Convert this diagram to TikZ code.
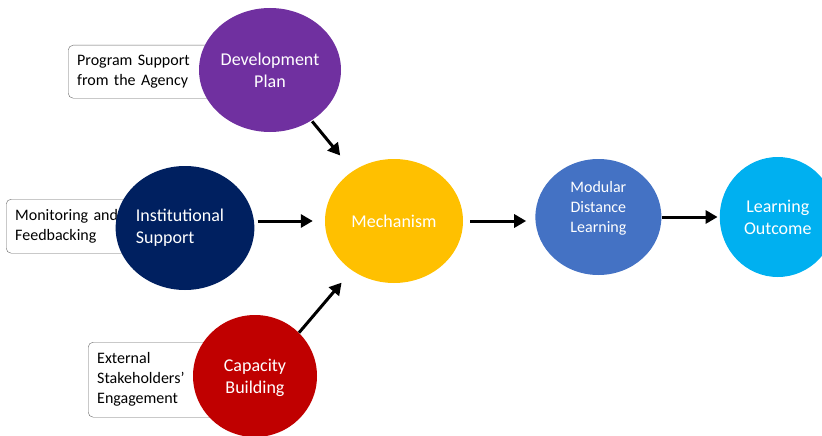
\documentclass[tikz,border=0pt]{standalone}
\usepackage{fontspec}
\setmainfont{Carlito}
\usetikzlibrary{shapes.geometric, arrows.meta, positioning}

\definecolor{planpurple}{HTML}{7030A0}
\definecolor{supportnavy}{HTML}{002060}
\definecolor{buildred}{HTML}{C00000}
\definecolor{mechyellow}{HTML}{FFC000}
\definecolor{modblue}{HTML}{4472C4}
\definecolor{outcomeblue}{HTML}{00B0F0}

\begin{document}
\begin{tikzpicture}[
    x=1pt, y=-1pt,
    box/.style={rectangle, draw=gray!80!black, fill=white, rounded corners=5pt, anchor=north west, align=left, inner xsep=9pt, font=\fontsize{16}{20}\selectfont},
    bubble/.style={ellipse, text=white, align=center, inner sep=0pt, font=\fontsize{18}{22}\selectfont},
    line/.style={draw, -{Triangle[length=12pt, width=13pt]}, line width=3pt}
]
\useasboundingbox (0,0) rectangle (822,436);
\clip (0,0) rectangle (822,436);

% side notes, tucked behind the circles
\node [box, text width=132pt, minimum height=53pt] (agency) at (68,45) {Program Support\\from the Agency};
\node [box, text width=112pt, minimum height=54pt] (monitor) at (6,199) {Monitoring and\\Feedbacking};
\node [box, text width=110pt, minimum height=75pt] (stake) at (88,342) {External\\Stakeholders'\\Engagement};

% inputs
\node [bubble, fill=planpurple, minimum width=142pt, minimum height=124pt] (plan) at (270,70) {Development\\Plan};
\node [bubble, fill=supportnavy, align=left, minimum width=138pt, minimum height=124pt] (support) at (185,228) {Institutional\hspace*{10pt}\\Support};
\node [bubble, fill=buildred, minimum width=124pt, minimum height=122pt, text depth=0pt] (building) at (255,376) {Capacity\\Building};

% main chain
\node [bubble, fill=mechyellow, minimum width=138pt, minimum height=124pt] (mech) at (394,221) {Mechanism};
\node [bubble, fill=modblue, minimum width=126pt, minimum height=116pt, text depth=20pt, font=\fontsize{16}{20}\selectfont, right=72pt of mech, yshift=4pt] (modular) {Modular\\Distance\\Learning};
\node [bubble, fill=outcomeblue, minimum width=116pt, minimum height=120pt, right=58pt of modular] (outcome) {Learning\\Outcome};

\path [line, shorten <=1pt, shorten >=20pt] (plan) -- (mech);
\path [line, shorten <=3pt, shorten >=12pt] (support.east |- mech) -- (mech);
\path [line, shorten >=16pt] (building.north east) -- (mech);
\path [line, shorten <=7pt, shorten >=9pt] (mech) -- (mech -| modular.west);
\path [line, shorten >=2pt] (modular) -- (outcome);

\end{tikzpicture}
\end{document}
